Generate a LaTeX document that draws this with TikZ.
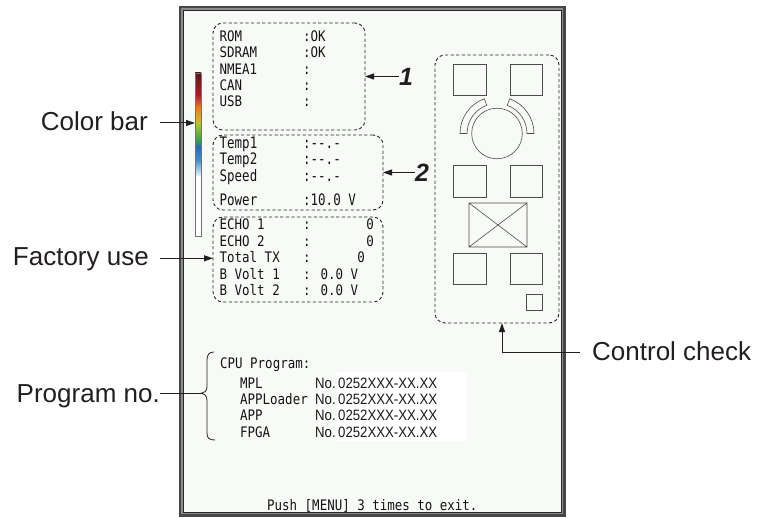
\documentclass[tikz,border=0pt]{standalone}
\usepackage{fontspec}
\setmainfont{Liberation Sans}
\newfontfamily\scrfont[FakeStretch=0.86]{DejaVu Sans Mono}
\newfontfamily\scrbig[FakeStretch=0.79]{DejaVu Sans Mono}
\newfontfamily\narfont[FakeStretch=0.88]{Liberation Sans}
\usetikzlibrary{arrows.meta,calc}
\definecolor{inkc}{HTML}{231F20}
\definecolor{scrbg}{HTML}{F8FAF7}
\begin{document}
\begin{tikzpicture}[x=1pt,y=-1pt,
  scr/.style={font=\scrfont\fontsize{14.5}{16}\selectfont,inner sep=0pt,anchor=base west,text=black!92},
  scrb/.style={font=\scrbig\fontsize{15.8}{17}\selectfont,inner sep=0pt,anchor=base west,text=black!92},
  nar/.style={font=\narfont\fontsize{15}{17}\selectfont,inner sep=0pt,anchor=base west,text=black!90},
  lbl/.style={font=\fontsize{26}{30}\selectfont,inner sep=0pt,text=inkc},
  num/.style={font=\bfseries\itshape\fontsize{25}{30}\selectfont,inner sep=0pt,anchor=base west,text=inkc},
  dbox/.style={draw=black!85,dash pattern=on 3.2pt off 2.4pt,line width=0.9pt,rounded corners=10pt,minimum width=#1,inner sep=0pt,outer sep=0pt},
  arr/.style={-{Triangle[length=9pt,width=6pt]},line width=1pt,draw=inkc},
  ctl/.style={draw=black!70,line width=0.6pt}
]
\useasboundingbox (0,0) rectangle (757,518);
\fill[white] (0,0) rectangle (757,518);
% frame
\fill[black!72] (179,6) rectangle (566,517);
\fill[black!45] (181.3,8.3) rectangle (563.3,513.5);
\fill[scrbg] (184,11) rectangle (561,512);
\draw[black!85,line width=0.9pt] (183.6,10.6) rectangle (561.2,512.3);
% colour bar
\shade[top color={rgb,255:red,94;green,20;blue,24},bottom color={rgb,255:red,170;green,32;blue,34}] (195,73) rectangle (201,95);
\shade[top color={rgb,255:red,170;green,32;blue,34},bottom color={rgb,255:red,224;green,122;blue,42}] (195,95) rectangle (201,107);
\shade[top color={rgb,255:red,224;green,122;blue,42},bottom color={rgb,255:red,232;green,160;blue,48}] (195,107) rectangle (201,117);
\shade[top color={rgb,255:red,232;green,160;blue,48},bottom color={rgb,255:red,190;green,196;blue,50}] (195,117) rectangle (201,125);
\shade[top color={rgb,255:red,160;green,196;blue,56},bottom color={rgb,255:red,60;green,160;blue,64}] (195,125) rectangle (201,140);
\shade[top color={rgb,255:red,60;green,160;blue,64},bottom color={rgb,255:red,32;green,112;blue,184}] (195,140) rectangle (201,147);
\shade[top color={rgb,255:red,32;green,112;blue,184},bottom color={rgb,255:red,60;green,144;blue,208}] (195,147) rectangle (201,160);
\shade[top color={rgb,255:red,60;green,144;blue,208},bottom color={rgb,255:red,232;green,246;blue,250}] (195,160) rectangle (201,176);
\fill[white] (195,176) rectangle (201,236);
\node[draw=black!55,line width=0.6pt,minimum width=6pt,minimum height=163pt,inner sep=0pt,outer sep=0pt] (cbar) at (198,154.5) {};
% dashed boxes
\node[dbox=152pt,minimum height=107pt] (b1) at (289,76.5) {};
\node[dbox=170pt,minimum height=75pt] (b2) at (298,172.5) {};
\node[dbox=170pt,minimum height=85pt] (b3) at (298,259.5) {};
\node[dbox=124pt,minimum height=268pt] (ctrl) at (497,189) {};
% box 1 text
\node[scr] (r1) at (219.5,41.7) {ROM};
\node[scr] (r2) at (219.5,58) {SDRAM};
\node[scr] (r3) at (219.5,74.3) {NMEA1};
\node[scr] (r4) at (219.5,90.6) {CAN};
\node[scr] (r5) at (219.5,107) {USB};
\node[scr] (v1) at (303,41.7) {:OK};
\node[scr] (v2) at (303,58) {:OK};
\node[scr] (v3) at (303,74.3) {:};
\node[scr] (v4) at (303,90.6) {:};
\node[scr] (v5) at (303,107) {:};
% box 2 text
\node[scrb] (t1) at (219.5,148.3) {Temp1};
\node[scrb] (t2) at (219.5,165) {Temp2};
\node[scrb] (t3) at (219.5,181.5) {Speed};
\node[scrb] (t4) at (219.5,206) {Power};
\node[scrb] (u1) at (303,148.3) {:--.-};
\node[scrb] (u2) at (303,165) {:--.-};
\node[scrb] (u3) at (303,181.5) {:--.-};
\node[scrb] (u4) at (303,206) {:10.0 V};
% box 3 text
\node[scr] (e1) at (219.5,230) {ECHO 1};
\node[scr] (e2) at (219.5,246.5) {ECHO 2};
\node[scr] (e3) at (219.5,263) {Total TX};
\node[scr] (e4) at (219.5,279.5) {B Volt 1};
\node[scr] (e5) at (219.5,296) {B Volt 2};
\node[scr] (c1) at (303,230) {:};
\node[scr] (c2) at (303,246.5) {:};
\node[scr] (c3) at (303,263) {:};
\node[scr] (c4) at (303,279.5) {: 0.0 V};
\node[scr] (c5) at (303,296) {: 0.0 V};
\node[scr,anchor=base east] (z1) at (374,230) {0};
\node[scr,anchor=base east] (z2) at (374,246.5) {0};
\node[scr,anchor=base east] (z3) at (365,263) {0};
% control check drawing
\draw[ctl] (453,64) rectangle (486,95);
\draw[ctl] (510,64) rectangle (542,95);
\coordinate (cc) at (497,133.5);
\draw[ctl] (cc) circle[radius=25.3];
\draw[ctl] ($(cc)+(180:30)$) arc[start angle=180,end angle=250,radius=30] -- ($(cc)+(250:37)$) arc[start angle=250,end angle=180,radius=37] -- cycle;
\draw[ctl] ($(cc)+(360:30)$) arc[start angle=360,end angle=290,radius=30] -- ($(cc)+(290:37)$) arc[start angle=290,end angle=360,radius=37] -- cycle;
\draw[ctl] (453,165) rectangle (486,197);
\draw[ctl] (510,165) rectangle (542,197);
\draw[ctl] (469,203) rectangle (527,247) (469,203) -- (527,247) (469,247) -- (527,203);
\draw[ctl] (453,253) rectangle (486,284);
\draw[ctl] (510,253) rectangle (542,284);
\draw[ctl] (526,294) rectangle (542,310);
% program list
\node[scr] (cpu) at (220,368) {CPU Program:};
\fill[white] (337,372) rectangle (467,441);
\node[scr] (p1) at (240,388) {MPL};
\node[scr] (p2) at (240,404.5) {APPLoader};
\node[scr] (p3) at (240,420.7) {APP};
\node[scr] (p4) at (240,437) {FPGA};
\node[nar] (n1) at (315,388) {No.};
\node[nar] (n2) at (315,404.5) {No.};
\node[nar] (n3) at (315,420.7) {No.};
\node[nar] (n4) at (315,437) {No.};
\node[nar] (q1) at (338,388) {0252XXX-XX.XX};
\node[nar] (q2) at (338,404.5) {0252XXX-XX.XX};
\node[nar] (q3) at (338,420.7) {0252XXX-XX.XX};
\node[nar] (q4) at (338,437) {0252XXX-XX.XX};
\draw[inkc,line width=0.8pt] (214,352) .. controls (209,352) and (207,355) .. (207,360) -- (207,387) .. controls (207,391) and (204,393.3) .. (201,393.3) .. controls (204,393.3) and (207,396) .. (207,400) -- (207,433) .. controls (207,438) and (209,440) .. (215,440);
\node[scr] (push) at (267,510.5) {Push [MENU] 3 times to exit.};
% outside labels
\node[lbl,anchor=base east] (cbl) at (148,130.7) {Color bar};
\coordinate (cba) at (160,123);
\draw[arr] (cba) -- (cba -| cbar.west);
\node[lbl,anchor=base east] (ful) at (149,266) {Factory use};
\coordinate (fua) at (160,258.3);
\draw[arr] (fua) -- (fua -| b3.west);
\node[lbl,anchor=base east] (pnl) at (160,402.7) {Program no.};
\coordinate (pna) at (160,393.3);
\coordinate (btip) at (201,393.3);
\draw[inkc,line width=1pt] (pna) -- (btip);
\node[lbl,anchor=base west] (ccl) at (592,360) {Control check};
\coordinate (cca) at (580,352);
\draw[arr] (cca) -| ([xshift=5pt]ctrl.south);
\node[num] (one) at (399,86) {1};
\draw[arr] (one.west |- b1.east) -- (b1.east);
\node[num] (two) at (415,181.5) {2};
\draw[arr] (two.west |- b2.east) -- (b2.east);
\end{tikzpicture}
\end{document}
